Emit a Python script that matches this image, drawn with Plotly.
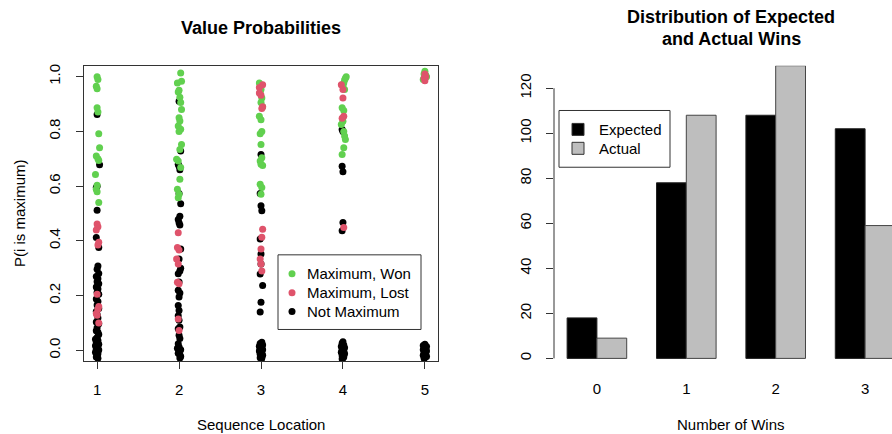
import plotly.graph_objects as go

FONT = "Liberation Sans, Arial, Helvetica, sans-serif"

# ---------------- Left panel data: (sequence location with jitter, P(i is maximum)) ----------------
won_pts = [
    (1.00, 1.000), (1.01, 0.990), (0.99, 0.965), (1.00, 0.956), (1.00, 0.886), (1.01, 0.871),
    (1.02, 0.791), (1.03, 0.740), (0.99, 0.710), (1.01, 0.700), (1.02, 0.694), (0.98, 0.643),
    (1.00, 0.603), (0.99, 0.589), (1.00, 0.580), (1.02, 0.540),
    (2.02, 1.013), (2.03, 0.983), (1.98, 0.977), (2.00, 0.950), (1.99, 0.944), (2.01, 0.925),
    (2.02, 0.906), (2.03, 0.880), (2.00, 0.850), (2.01, 0.838), (1.99, 0.820), (2.02, 0.808),
    (2.00, 0.800), (2.03, 0.752), (2.01, 0.734), (1.97, 0.698), (1.99, 0.692), (2.02, 0.668),
    (2.01, 0.625), (1.98, 0.589), (2.00, 0.570), (1.99, 0.558),
    (2.98, 0.977), (3.00, 0.953), (2.99, 0.940), (3.01, 0.922), (3.00, 0.906), (3.02, 0.890),
    (2.98, 0.855), (3.00, 0.843), (3.01, 0.800), (2.99, 0.791), (3.00, 0.752), (3.01, 0.704),
    (2.99, 0.692), (3.00, 0.680), (3.02, 0.675), (2.99, 0.607), (3.01, 0.595), (3.00, 0.570),
    (4.04, 1.000), (4.03, 0.994), (4.02, 0.988), (4.01, 0.977), (4.00, 0.966), (4.02, 0.953),
    (3.99, 0.886), (4.01, 0.876), (4.00, 0.837), (3.98, 0.825), (4.01, 0.800), (4.02, 0.783),
    (4.03, 0.770), (4.01, 0.740), (3.99, 0.716),
    (5.00, 1.020), (4.99, 1.010), (5.02, 1.000), (4.98, 0.990), (5.01, 1.005),
]

lost_pts = [
    (1.00, 0.462), (1.01, 0.452), (0.99, 0.440), (1.02, 0.395), (1.01, 0.385), (1.00, 0.205),
    (1.02, 0.160), (1.01, 0.150), (0.99, 0.135), (1.00, 0.128), (1.02, 0.100),
    (1.99, 0.430), (1.98, 0.376), (2.00, 0.367), (1.97, 0.334), (1.99, 0.316), (1.98, 0.249),
    (2.00, 0.243), (1.99, 0.115), (2.00, 0.073),
    (3.02, 0.970), (2.98, 0.960), (2.98, 0.940), (3.00, 0.932), (3.02, 0.890), (3.01, 0.884),
    (3.02, 0.443), (3.01, 0.413), (3.00, 0.370), (2.99, 0.334), (3.00, 0.316), (3.01, 0.290),
    (3.98, 0.970), (4.00, 0.953), (4.00, 0.922), (4.01, 0.855), (3.99, 0.848), (4.01, 0.449),
    (5.00, 1.010), (5.01, 1.000), (4.99, 0.995), (5.00, 0.985),
]

notmax_pts = [
    (1.00, 0.862), (1.03, 0.678), (1.00, 0.600), (0.99, 0.595), (1.00, 0.512), (0.99, 0.412),
    (1.02, 0.376), (1.01, 0.308), (1.00, 0.296), (1.02, 0.281), (0.99, 0.270), (1.01, 0.262),
    (1.00, 0.251), (1.02, 0.243), (0.99, 0.232), (1.01, 0.224), (1.00, 0.212), (1.02, 0.205),
    (0.99, 0.188), (1.01, 0.179), (1.00, 0.166), (1.02, 0.153), (0.99, 0.142), (1.00, 0.131),
    (1.01, 0.118), (0.99, 0.104), (1.02, 0.097), (1.00, 0.083), (0.99, 0.072), (1.01, 0.066),
    (1.02, 0.058), (1.00, 0.047), (0.98, 0.041), (1.01, 0.036), (0.99, 0.028), (1.02, 0.022),
    (0.98, 0.017), (1.00, 0.012), (1.01, 0.008), (0.99, 0.004), (1.02, 0.001), (1.00, -0.003),
    (0.98, -0.007), (1.01, -0.012), (1.00, -0.018), (0.99, -0.024), (1.01, -0.029),
    (2.00, 0.910), (2.02, 0.728), (1.99, 0.680), (2.00, 0.673), (2.01, 0.660), (2.00, 0.573),
    (2.02, 0.536), (2.01, 0.490), (1.99, 0.478), (2.00, 0.466), (2.01, 0.458), (2.02, 0.370),
    (2.00, 0.334), (2.02, 0.300), (2.01, 0.290), (1.99, 0.280), (2.00, 0.250), (1.99, 0.220),
    (2.01, 0.210), (2.00, 0.195), (1.99, 0.164), (2.00, 0.146), (1.99, 0.127), (2.00, 0.110),
    (2.01, 0.085), (1.99, 0.079), (2.00, 0.055), (2.01, 0.043), (1.99, 0.024), (2.00, 0.012),
    (1.98, 0.008), (2.02, 0.002), (2.00, -0.004), (1.99, -0.010), (2.01, -0.016), (2.02, -0.022),
    (2.01, -0.028),
    (3.00, 0.716), (2.99, 0.573), (3.00, 0.528), (3.01, 0.510), (2.99, 0.407), (3.00, 0.352),
    (3.00, 0.316), (2.99, 0.279), (3.02, 0.237), (3.00, 0.176), (2.99, 0.140), (3.01, 0.030),
    (2.99, 0.025), (3.02, 0.020), (2.98, 0.015), (3.00, 0.012), (3.01, 0.008), (2.99, 0.005),
    (3.02, 0.002), (2.98, -0.002), (3.00, -0.006), (3.01, -0.010), (2.99, -0.014), (3.02, -0.018),
    (3.00, -0.022), (2.99, -0.027), (3.01, -0.030),
    (3.99, 0.807), (4.00, 0.800), (3.99, 0.673), (4.00, 0.653), (4.00, 0.467), (3.99, 0.437),
    (4.00, 0.032), (3.99, 0.026), (4.01, 0.020), (3.98, 0.014), (4.02, 0.010), (4.00, 0.006),
    (3.99, 0.002), (4.01, -0.003), (3.98, -0.007), (4.02, -0.012), (4.00, -0.016), (3.99, -0.020),
    (4.01, -0.024), (4.00, -0.028), (3.99, -0.031),
    (5.00, 0.022), (4.98, 0.018), (5.02, 0.014), (4.99, 0.010), (5.01, 0.006), (4.98, 0.002),
    (5.02, -0.002), (5.00, -0.006), (4.99, -0.010), (5.01, -0.014), (4.98, -0.018), (5.02, -0.022),
    (5.00, -0.026), (4.99, -0.030),
]

seq_ticks = [1, 2, 3, 4, 5]
p_ticks = [0.0, 0.2, 0.4, 0.6, 0.8, 1.0]

# ---------------- Right panel data ----------------
wins = [0, 1, 2, 3]
expected = [18, 78, 108, 102]
actual = [9, 108, 130, 59]
count_ticks = [0, 20, 40, 60, 80, 100, 120]

GREEN, RED, BLACK, GREY = "#61D04F", "#DF536B", "#000000", "#BEBEBE"
LINE = "#333333"

fig = go.Figure()

def add_pts(pts, name, color):
    fig.add_trace(go.Scatter(
        x=[p[0] for p in pts], y=[p[1] for p in pts], mode="markers", name=name,
        marker=dict(color=color, size=7, line=dict(width=0)),
        xaxis="x", yaxis="y", showlegend=False))

add_pts(notmax_pts, "Not Maximum", BLACK)
add_pts(won_pts, "Maximum, Won", GREEN)
add_pts(lost_pts, "Maximum, Lost", RED)

# grouped bar positions (R barplot beside=TRUE: bar width 1, one unit space between groups)
exp_x = [3 * i + 1.5 for i in range(len(wins))]
act_x = [3 * i + 2.5 for i in range(len(wins))]
grp_x = [3 * i + 2 for i in range(len(wins))]

fig.add_trace(go.Bar(x=exp_x, y=expected, width=1, name="Expected",
                     marker=dict(color=BLACK, line=dict(color="#222", width=1)),
                     xaxis="x2", yaxis="y2", showlegend=False))
fig.add_trace(go.Bar(x=act_x, y=actual, width=1, name="Actual",
                     marker=dict(color=GREY, line=dict(color="#444", width=1)),
                     xaxis="x2", yaxis="y2", showlegend=False))

W, H = 892, 434
def px_x(p): return p / W
def px_y(p): return 1 - p / H

ydom = [px_y(361), px_y(64)]
axfont = dict(family=FONT, size=15, color="black")

shapes = [
    # R-style y axis line of the bar chart (spans first to last tick only)
    dict(type="line", xref="x2 domain", yref="y2", x0=0, x1=0, y0=count_ticks[0],
         y1=count_ticks[-1], line=dict(color=LINE, width=1)),
    # legend boxes
    dict(type="rect", xref="paper", yref="paper", x0=px_x(278), x1=px_x(421),
         y0=px_y(329), y1=px_y(254), line=dict(color=LINE, width=1), fillcolor="white", layer="above"),
    dict(type="rect", xref="paper", yref="paper", x0=px_x(559), x1=px_x(670),
         y0=px_y(166), y1=px_y(109), line=dict(color=LINE, width=1), fillcolor="white", layer="above"),
]
annotations = [
    dict(text="<b>Value Probabilities</b>", x=px_x(261), y=px_y(26)),
    dict(text="<b>Distribution of Expected</b>", x=px_x(731), y=px_y(15)),
    dict(text="<b>and Actual Wins</b>", x=px_x(731), y=px_y(37)),
    dict(text="Sequence Location", x=px_x(261), y=px_y(424)),
    dict(text="Number of Wins", x=px_x(731), y=px_y(424)),
    dict(text="P(i is maximum)", x=px_x(19), y=px_y(212), textangle=-90),
]
for a in annotations:
    a.update(xref="paper", yref="paper", showarrow=False, xanchor="center", yanchor="middle")
    a["font"] = dict(family=FONT, size=18 if a["text"].startswith("<b>") else 15, color="black")

# legend: left panel (points)
left_items = [("Maximum, Won", GREEN), ("Maximum, Lost", RED), ("Not Maximum", BLACK)]
for i, (lab, col) in enumerate(left_items):
    yc = 273 + 19 * i
    shapes.append(dict(type="circle", xref="paper", yref="paper", xsizemode="pixel", ysizemode="pixel",
                       xanchor=px_x(292), yanchor=px_y(yc), x0=-3.5, x1=3.5, y0=-3.5, y1=3.5,
                       fillcolor=col, line=dict(width=0), layer="above"))
    annotations.append(dict(text=lab, x=px_x(305), y=px_y(yc), xref="paper", yref="paper",
                            showarrow=False, xanchor="left", yanchor="middle", font=axfont))

# legend: right panel (bars)
right_items = [("Expected", BLACK), ("Actual", GREY)]
for i, (lab, col) in enumerate(right_items):
    yc = 128 + 19 * i
    shapes.append(dict(type="rect", xref="paper", yref="paper", xsizemode="pixel", ysizemode="pixel",
                       xanchor=px_x(578), yanchor=px_y(yc), x0=-6, x1=6, y0=-6, y1=6,
                       fillcolor=col, line=dict(color=LINE, width=1), layer="above"))
    annotations.append(dict(text=lab, x=px_x(597), y=px_y(yc), xref="paper", yref="paper",
                            showarrow=False, xanchor="left", yanchor="middle", font=axfont))

fig.update_layout(
    width=W, height=H, margin=dict(l=0, r=0, t=0, b=0),
    paper_bgcolor="white", plot_bgcolor="white",
    font=dict(family=FONT, size=15, color="black"),
    barmode="overlay", showlegend=False,
    xaxis=dict(domain=[px_x(84), px_x(438)], range=[0.84, 5.16], tickvals=seq_ticks,
               ticks="outside", ticklen=7, tickcolor=LINE, showline=True, mirror=True,
               linecolor=LINE, linewidth=1, showgrid=False, zeroline=False,
               tickfont=axfont, ticklabelstandoff=8),
    yaxis=dict(domain=ydom, range=[-0.04, 1.04], tickvals=p_ticks, tickformat=".1f",
               ticks="outside", ticklen=7, tickcolor=LINE, showline=True, mirror=True,
               linecolor=LINE, linewidth=1, showgrid=False, zeroline=False,
               tickangle=-90, tickfont=axfont, ticklabelstandoff=10),
    xaxis2=dict(domain=[px_x(554), 1.0], range=[0.56, 0.56 + (892 - 554) / 354 * 11.88],
                tickvals=grp_x, ticktext=[str(w) for w in wins], ticks="", showline=False,
                showgrid=False, zeroline=False, tickfont=axfont, ticklabelstandoff=17),
    yaxis2=dict(domain=ydom, range=[-1.3, 130], tickvals=count_ticks, ticks="outside",
                ticklen=7, tickcolor=LINE, showline=False, showgrid=False, zeroline=False,
                tickangle=-90, tickfont=axfont, ticklabelstandoff=9, anchor="x2"),
    shapes=shapes,
    annotations=annotations,
)

fig.write_html("out.html", config={"displayModeBar": False},
               post_script="document.body.style.margin='0';document.body.style.overflow='hidden';")
